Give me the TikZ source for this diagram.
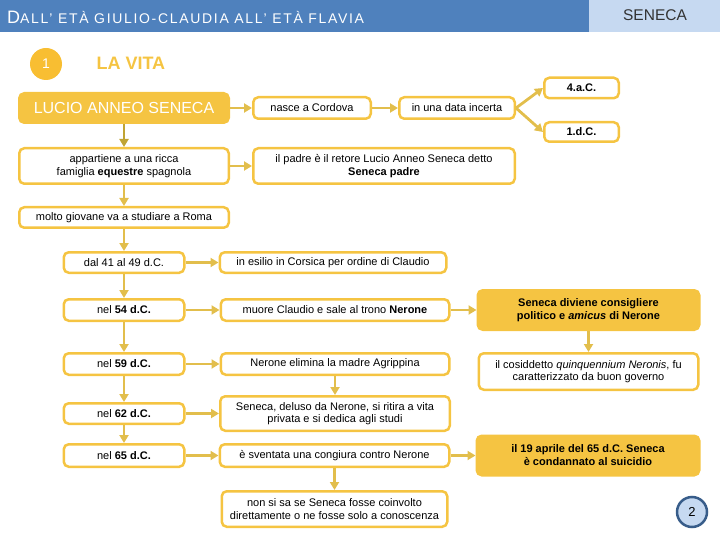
\documentclass[tikz,border=0pt]{standalone}
\usepackage{fontspec}
\setmainfont{Liberation Sans}
\usetikzlibrary{positioning,arrows.meta}

\definecolor{senyel}{RGB}{245,196,66}
\definecolor{arryel}{RGB}{226,190,76}
\definecolor{arrolive}{RGB}{192,164,52}
\definecolor{hdrblue}{RGB}{79,129,189}
\definecolor{hdrlight}{RGB}{198,217,241}
\definecolor{ringblue}{RGB}{56,93,138}

\begin{document}
\begin{tikzpicture}[
  x=1pt, y=1pt,
  box/.style={draw=senyel, line width=2.5pt, rounded corners=5pt, fill=white, align=center,
              font=\fontsize{11}{12.5}\selectfont, inner sep=2pt, minimum height=21.5pt},
  keybox/.style={box, fill=senyel, text=white, font=\fontsize{16}{18}\selectfont},
  notebox/.style={box, fill=senyel, font=\fontsize{11}{13}\selectfont\bfseries},
  arr/.style={-{Triangle[length=8pt,width=9pt]}, line width=2.8pt, arryel},
  arrdk/.style={arr, arrolive}
]
  \useasboundingbox (0,0) rectangle (720,-540);

  % Header
  \fill[hdrblue] (0,0) rectangle (589,-32);
  \fill[hdrlight] (589,0) rectangle (720,-32);
  \node[anchor=west, text=white, inner sep=0pt] (title) at (7,-17)
    {{\fontsize{18}{18}\selectfont D}{\fontsize{14}{14}\selectfont\addfontfeature{LetterSpace=12}ALL’ ETÀ GIULIO-CLAUDIA ALL’ ETÀ FLAVIA}};
  \node[text=black!80, font=\fontsize{15.5}{16}\selectfont] (sen) at (655,-15) {SENECA};

  \node[circle, fill={rgb,255:red,248;green,190;blue,50}, text=white, minimum size=32pt, inner sep=0pt,
        font=\fontsize{14}{14}\selectfont] (one) at (46,-64) {1};
  \node[anchor=west, text=senyel, font=\fontsize{18}{18}\selectfont\bfseries] (vita) at (93,-63) {LA VITA};

  % Birth
  \node[keybox, minimum width=209.5pt, minimum height=29.5pt] (lucio) at (124,-108) {LUCIO ANNEO SENECA};
  \node[box, minimum width=117.5pt, right=22pt of lucio] (nasce) {nasce a Cordova};
  \node[box, minimum width=115.5pt, right=26pt of nasce] (data) {in una data incerta};
  \node[box, minimum width=74.5pt, minimum height=20.5pt, right=27pt of data, yshift=20pt, font=\fontsize{11}{12}\selectfont\bfseries] (ac) {4.a.C.};
  \node[box, minimum width=74.5pt, minimum height=19.5pt, right=27pt of data, yshift=-24pt, font=\fontsize{11}{12}\selectfont\bfseries] (dc) {1.d.C.};

  % Family and youth
  \node[box, minimum width=209.5pt, minimum height=35.5pt, below=23pt of lucio] (famiglia)
    {appartiene a una ricca\\famiglia \textbf{equestre} spagnola};
  \node[box, minimum width=261.5pt, minimum height=35.5pt, right=22pt of famiglia] (padre)
    {il padre è il retore Lucio Anneo Seneca detto\\\textbf{Seneca padre}};
  \node[box, minimum width=209.5pt, minimum height=20.5pt, below=21pt of famiglia] (roma)
    {molto giovane va a studiare a Roma};

  % Dates
  \node[box, minimum width=120.5pt, minimum height=20.5pt, below=22pt of roma] (d41) {dal 41 al 49 d.C.};
  \node[box, minimum width=226.5pt, minimum height=20.5pt, right=33pt of d41] (esilio) {in esilio in Corsica per ordine di Claudio};

  \node[box, minimum width=120.5pt, below=24pt of d41] (d54) {nel \textbf{54 d.C.}};
  \node[box, minimum width=228.5pt, right=34pt of d54] (trono) {muore Claudio e sale al trono \textbf{Nerone}};
  \node[notebox, minimum width=221.5pt, minimum height=39.5pt, right=26pt of trono] (amicus)
    {Seneca diviene consigliere\\politico e \textit{amicus} di Nerone};
  \node[box, minimum width=219.5pt, minimum height=36.5pt, below=21pt of amicus] (quinq)
    {il cosiddetto \textit{quinquennium Neronis}, fu\\caratterizzato da buon governo};

  \node[box, minimum width=120.5pt, below=30pt of d54] (d59) {nel \textbf{59 d.C.}};
  \node[box, minimum width=228.5pt, right=34pt of d59] (agrip) {Nerone elimina la madre Agrippina};

  \node[box, minimum width=120.5pt, minimum height=20.5pt, below=26pt of d59] (d62) {nel \textbf{62 d.C.}};
  \node[box, minimum width=229.5pt, minimum height=34.5pt, below=19pt of agrip] (ritiro)
    {Seneca, deluso da Nerone, si ritira a vita\\privata e si dedica agli studi};

  \node[box, minimum width=120.5pt, minimum height=22.5pt, below=18pt of d62] (d65) {nel \textbf{65 d.C.}};
  \node[box, minimum width=229.5pt, minimum height=22.5pt, right=33pt of d65] (congiura) {è sventata una congiura contro Nerone};
  \node[notebox, minimum width=222.5pt, minimum height=39.5pt, right=25pt of congiura] (morte)
    {il 19 aprile del 65 d.C. Seneca\\è condannato al suicidio};
  \node[box, minimum width=225.5pt, minimum height=35.5pt, below=22pt of congiura] (dubbio)
    {non si sa se Seneca fosse coinvolto\\direttamente o ne fosse solo a conoscenza};

  % Page number
  \node[circle, draw=ringblue, line width=2.5pt, fill=hdrlight, minimum size=30pt, inner sep=0pt,
        font=\fontsize{13}{13}\selectfont] (pag) at (692,-512) {2};

  % Arrows
  \draw[arr] (lucio) -- (nasce);
  \draw[arr] (nasce) -- (data);
  \draw[arr] (data.east) -- (ac.west);
  \draw[arr] (data.east) -- (dc.west);
  \draw[arrdk] (lucio) -- (famiglia);
  \draw[arr] (famiglia) -- (padre);
  \draw[arr] (famiglia) -- (roma);
  \draw[arr] (roma) -- (d41);
  \draw[arr] (d41) -- (esilio);
  \draw[arr] (d41) -- (d54);
  \draw[arr] (d54) -- (trono);
  \draw[arr] (trono) -- (amicus);
  \draw[arr] (amicus) -- (quinq);
  \draw[arr] (d54) -- (d59);
  \draw[arr] (d59) -- (agrip);
  \draw[arr] (agrip) -- (ritiro);
  \draw[arr] (d59) -- (d62);
  \draw[arr] (d62) -- (ritiro);
  \draw[arr] (d62) -- (d65);
  \draw[arr] (d65) -- (congiura);
  \draw[arr] (congiura) -- (morte);
  \draw[arr] (congiura) -- (dubbio);
\end{tikzpicture}
\end{document}
